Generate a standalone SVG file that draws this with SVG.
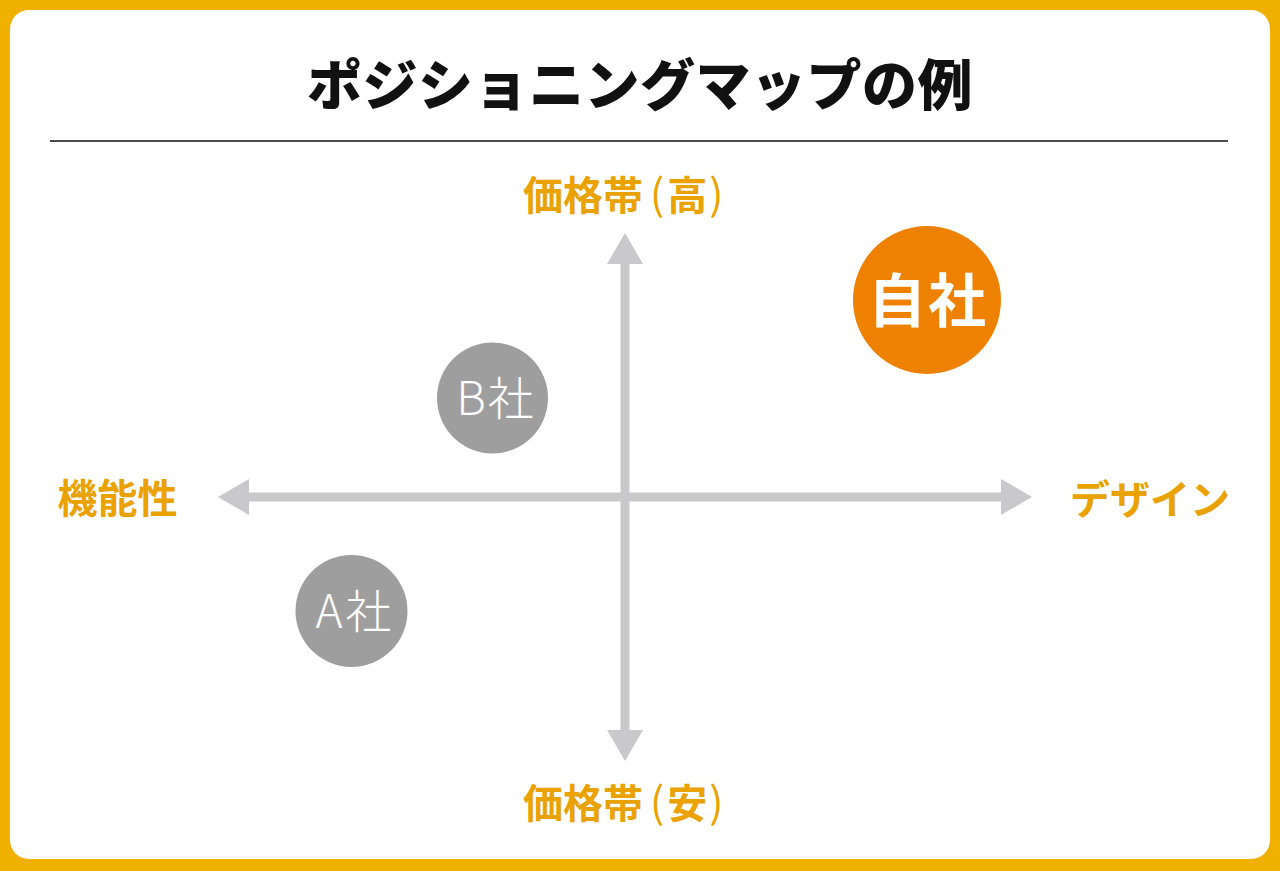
<svg xmlns="http://www.w3.org/2000/svg" width="1280" height="871" viewBox="0 0 1280 871">
<defs>
<style>
.jp{font-family:"Noto Sans CJK JP","Noto Sans CJK SC",sans-serif;}
.title{font-size:55px;font-weight:900;fill:#111;}
.axlbl{font-size:40px;font-weight:700;fill:#E9A200;}
.axis{stroke:#C9C9CB;stroke-width:9;fill:none;}
.head{fill:#C9C9CB;}
.comp{fill:#9E9E9F;}
.comptxt{font-size:46px;font-weight:300;fill:#fff;}
.paren{font-weight:400;font-size:42px;}
</style>
</defs>
<rect x="0" y="0" width="1280" height="871" fill="#F0B000"/>
<rect x="10" y="10" width="1260" height="849" rx="19" fill="#fff"/>
<g id="title">
<text class="jp title" x="640" y="105" text-anchor="middle" letter-spacing="0.5">ポジショニングマップの例</text>
<line x1="50" y1="141" x2="1228" y2="141" stroke="#111" stroke-width="1.5"/>
</g>
<g id="connectors">
<line class="axis" x1="625" y1="255" x2="625" y2="732"/>
<line class="axis" x1="246" y1="497" x2="1004" y2="497"/>
<polygon class="head" points="625,233 607,264 643,264"/>
<polygon class="head" points="625,761 607,730 643,730"/>
<polygon class="head" points="218,497 249,479 249,515"/>
<polygon class="head" points="1032,497 1001,479 1001,515"/>
</g>
<g id="label-high"><text class="jp axlbl" x="523" y="210">価格帯<tspan class="paren" dx="7">(</tspan><tspan dx="3">高</tspan><tspan class="paren" dx="2">)</tspan></text></g>
<g id="label-low"><text class="jp axlbl" x="523" y="818">価格帯<tspan class="paren" dx="7">(</tspan><tspan dx="3">安</tspan><tspan class="paren" dx="2">)</tspan></text></g>
<g id="label-left"><text class="jp axlbl" x="117.5" y="513" text-anchor="middle" font-size="41">機能性</text></g>
<g id="label-right"><text class="jp axlbl" x="1150" y="514" text-anchor="middle" font-size="44">デザイン</text></g>
<g id="node-self">
<circle cx="927" cy="300" r="74" fill="#EE8200"/>
<text class="jp" x="928" y="322" text-anchor="middle" font-size="58" font-weight="700" fill="#fff" letter-spacing="2">自社</text>
</g>
<g id="node-b">
<circle class="comp" cx="492.5" cy="398" r="55.5"/>
<text class="jp comptxt" x="496" y="415" text-anchor="middle" letter-spacing="2">B社</text>
</g>
<g id="node-a">
<circle class="comp" cx="351.5" cy="611" r="56"/>
<text class="jp comptxt" x="355" y="628" text-anchor="middle" letter-spacing="3">A社</text>
</g>
</svg>
